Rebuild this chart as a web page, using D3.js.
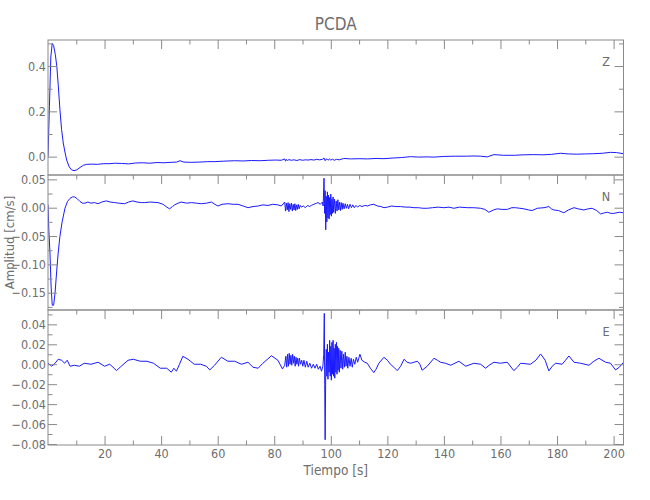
<!DOCTYPE html>
<html><head><meta charset="utf-8">
<script src="https://cdn.jsdelivr.net/npm/d3@7"></script>
<style>
body{margin:0;background:#fff}
svg{display:block}
text{font-family:"Liberation Sans Narrow","DejaVu Sans Condensed","Liberation Sans",sans-serif;fill:#6e6e6e}
</style>
</head><body><svg id="c" width="650" height="500"></svg>
<script>
const title = "PCDA";
const xLabel = "Tiempo [s]";
const yLabel = "Amplitud [cm/s]";
const xTickLabels = [20,40,60,80,100,120,140,160,180,200];
const xMinorTicks = [10,30,50,70,90,110,130,150,170,190];
const componentNames = ["Z","N","E"];

const zTime = [0,0.5,1,1.5,2,2.6,3.1,3.6,4.2,4.8,
5.4,6,6.6,7.5,8.3,9.2,10.2,11.3,12.5,13.7,
15.5,17.5,19.5,21.9,23.6,26,28.5,31,33.5,36,
38.5,41,43.5,45.5,46.7,48,50.5,53.7,56.5,59,
62,66,69,72,75,78,80.5,82.5,83.7,84,
84.3,84.7,85.2,86,87,88,89,90,91,92,
93,94,95,96,97,97.6,98,98.5,99,99.5,
100,100.6,101.2,102,103,104.6,107,110,113,116,
118.8,122,125,128.2,131,134,136.5,140,144,148,
150.6,153,155.3,157.7,161,165,168,171.8,175,178,
181.2,184,187,190,193,196,198.9,201,203.5];
const zAmp = [0,0.22,0.44,0.5,0.49,0.45,0.4,0.32,0.21,0.12,
0.06,0.02,-0.015,-0.045,-0.058,-0.062,-0.058,-0.048,-0.038,-0.034,
-0.033,-0.034,-0.031,-0.031,-0.029,-0.03,-0.032,-0.028,-0.027,-0.029,
-0.026,-0.027,-0.025,-0.024,-0.018,-0.024,-0.025,-0.024,-0.022,-0.022,
-0.02,-0.018,-0.019,-0.017,-0.018,-0.016,-0.015,-0.016,-0.01,-0.02,
-0.012,-0.017,-0.013,-0.016,-0.014,-0.017,-0.013,-0.016,-0.014,-0.015,
-0.013,-0.015,-0.012,-0.014,-0.012,-0.006,-0.018,-0.009,-0.016,-0.01,
-0.015,-0.011,-0.016,-0.012,-0.014,-0.008,-0.01,-0.009,-0.01,-0.008,
-0.009,-0.006,-0.004,0,-0.002,-0.001,-0.002,0.001,0.002,0.002,
0.003,0.002,-0.001,0.009,0.006,0.006,0.008,0.009,0.008,0.01,
0.015,0.012,0.011,0.012,0.013,0.015,0.019,0.018,0.013];

const nTime = [0,0.3,0.7,1.1,1.5,2,2.5,3.1,3.6,4.2,
5,6,6.9,7.8,8.6,9.4,10.3,11.3,12.2,13.1,
14.1,15.2,16.4,17.7,19,20.6,22,23.6,25,27.1,
28.5,30,31.5,33,34.2,36,38.9,40.7,42,43,
44,44.8,46,47.1,49,50.7,52.5,54.2,56,57.8,
59,60.1,61.5,63.6,65.5,67.2,69,70.7,72.5,74.3,
76,77.8,79.5,81.3,82.5,83.7,84,84.3,84.6,84.9,
85.2,85.5,85.8,86.1,86.4,86.7,87,87.3,87.6,87.9,
88.2,88.5,88.8,89.2,89.6,90.3,91,91.8,92.5,93.1,
94,95,95.5,96.3,97,97.3,97.6,97.8,98,98.2,
98.4,98.6,98.8,99,99.2,99.4,99.6,99.8,100,100.2,
100.4,100.6,100.8,101,101.3,101.6,101.9,102.2,102.5,102.8,
103.1,103.4,103.7,104,104.3,104.7,105.1,105.5,105.9,106.3,
106.8,107.3,107.8,108.3,108.9,109.5,110.2,111,112,113,
114,115.2,116.5,117.7,118.8,120,121.5,123,124.7,126.5,
128,129.4,131,132.5,134.1,136,138,140,141.8,143.5,
145.5,148.3,150.5,153,154.5,155.9,157.5,158.9,160.5,162.4,
164,165.3,166.8,168.3,170,171.2,173,175.4,177.1,178,
178.9,180.5,182.4,184,186,187.5,189.5,191,192.4,194,
195.4,196.8,197.8,199,200.1,202,203.5];
const nAmp = [0.005,-0.04,-0.08,-0.14,-0.172,-0.172,-0.15,-0.11,-0.08,-0.051,
-0.025,-0.001,0.011,0.0165,0.019,0.019,0.016,0.011,0.008,0.008,
0.01,0.008,0.009,0.007,0.01,0.012,0.01,0.009,0.008,0.007,
0.01,0.012,0.01,0.009,0.009,0.01,0.009,0.006,0.001,-0.002,
0.002,0.005,0.008,0.01,0.008,0.009,0.008,0.007,0.008,0.01,
0.006,0.003,0.006,0.007,0.006,0.006,0.003,0,0.002,0.003,
0.005,0.004,0.006,0.005,0.003,0.01,-0.006,0.008,-0.004,0.009,
-0.007,0.007,-0.003,0.008,-0.006,0.006,-0.004,0.007,-0.005,0.005,
-0.003,0.006,-0.002,0.004,0.001,0.003,0,0.004,0.002,0.004,
0.006,0.008,0.009,0.006,0.01,0.003,0.052,-0.01,0.03,-0.039,
0.02,-0.025,0.028,-0.018,0.022,-0.02,0.018,-0.012,0.024,-0.015,
0.015,-0.01,0.019,-0.008,0.015,-0.01,0.012,-0.006,0.014,-0.004,
0.01,-0.005,0.009,-0.003,0.008,-0.002,0.007,-0.001,0.006,-0.002,
0.006,0,0.005,0,0.004,0.001,0.004,0.002,0.004,0.003,
0.005,0.006,0.003,0.002,0,0.001,0.003,0.002,0.002,0.001,
0.001,0,0,-0.001,-0.001,0,0.001,0,0.001,-0.001,
0.001,0,0,-0.001,-0.003,-0.008,-0.004,-0.002,-0.003,-0.003,
0,0,-0.001,-0.002,-0.004,-0.005,-0.001,0,0.002,-0.002,
-0.004,-0.005,-0.009,-0.004,0,-0.002,-0.004,-0.002,-0.001,-0.005,
-0.011,-0.009,-0.008,-0.01,-0.01,-0.008,-0.009];

const eTime = [0,1.3,2.5,3.6,4.8,5.9,6.8,7.8,9.3,11.1,
12.8,15.2,17.7,20,21.8,23,24.2,25.9,28.3,30.2,
32.6,35,37.3,39.7,42,43.6,44.5,45.4,46.5,47.7,
49.5,51.7,54,56,57.2,58.9,61.3,63.6,66,68.4,
70.7,72.5,74.3,76,79,81.3,82.9,83.7,84.1,84.4,
84.7,85,85.3,85.6,85.9,86.2,86.5,86.8,87.1,87.4,
87.7,88,88.3,88.6,88.9,89.3,89.7,90.1,90.5,91,
91.5,92,92.6,93.2,93.8,94.4,95,95.6,96.2,96.7,
97.2,97.5,97.7,97.85,98,98.2,98.4,98.6,98.8,99,
99.2,99.4,99.6,99.8,100,100.2,100.4,100.6,100.8,101,
101.2,101.4,101.6,101.8,102,102.2,102.4,102.6,102.8,103,
103.3,103.6,103.9,104.2,104.5,104.8,105.1,105.4,105.7,106,
106.4,106.8,107.2,107.6,108,108.5,109,109.5,110.3,111,
112,112.9,114,115.2,116,117,118.8,120,121.1,122.3,
123.5,124.7,125.9,127,128.2,130.6,131.5,132.3,134.1,136.5,
137.7,138.8,140.5,142.4,145.3,147.7,150.6,153,154.7,156,
157.7,160,162.4,164.7,166,167.1,170.6,172.5,174.2,175.8,
177.1,178.3,179.5,181.8,183,184.2,186,188.3,191.3,193,
194.8,197.2,198.9,200.7,202,203.5];
const eAmp = [0.001,-0.002,0.001,0.005,0.004,0.001,0.004,-0.002,-0.001,-0.002,
0.001,0,0.002,-0.002,0,-0.003,-0.0064,-0.002,0.004,0.005,
0.003,0.003,0.001,-0.004,-0.004,-0.008,-0.004,-0.007,0,0.008,
0.005,0,0,-0.002,-0.0057,-0.001,0.007,0.003,0.003,0,
0.002,-0.003,-0.004,0.001,0.0085,0.004,-0.0047,-0.001,0.008,-0.003,
0.01,-0.002,0.011,0,0.009,-0.001,0.01,0.001,0.008,-0.002,
0.007,0,0.006,-0.002,0.006,0,0.004,-0.002,0.004,-0.003,
0.003,-0.003,0.001,-0.004,0,-0.004,0,-0.005,-0.002,-0.007,
-0.002,0.01,0.051,-0.02,-0.0757,-0.01,0.015,-0.012,0.02,-0.015,
0.012,-0.008,0.024,-0.012,0.018,-0.016,0.022,-0.01,0.024,-0.012,
0.016,-0.014,0.02,-0.008,0.022,-0.01,0.018,-0.006,0.016,-0.008,
0.014,-0.004,0.013,-0.005,0.01,-0.003,0.012,-0.002,0.008,-0.004,
0.007,-0.002,0.006,-0.003,0.005,0,0.007,0.002,0.01,0.004,
0.002,0.001,-0.004,-0.0084,-0.005,0.001,0.007,0.004,0,-0.003,
-0.0064,-0.002,0.005,0.002,0.001,0.003,0,-0.006,-0.002,0.006,
0.004,0.002,0.001,-0.001,0.003,-0.002,0.001,0,-0.004,-0.001,
0.002,0.001,0.002,-0.0064,-0.003,0.001,0,0.004,0.0103,0.004,
-0.0067,-0.002,0.001,0,0.004,0.0083,0.002,0.001,-0.001,0.003,
0.006,0.002,0.001,-0.0057,-0.003,0.002];

const zMajorTicks = [0,0.2,0.4];
const zMinorTicks = [0.1,0.3,0.5];
const nMajorTicks = [0.05,0,-0.05,-0.1,-0.15];
const nMinorTicks = [0.025,-0.025,-0.075,-0.125,-0.175];
const eMajorTicks = [0.04,0.02,0,-0.02,-0.04,-0.06,-0.08];
const eMinorTicks = [0.05,0.03,0.01,-0.01,-0.03,-0.05,-0.07];

const left = 48, right = 623.5;
const panelTops = [40, 175, 310];
const panelH = 135;
const axisColor = "#8a8a8a";
const fontStack = "'Liberation Sans Narrow','DejaVu Sans Condensed',sans-serif";

const panels = [
  {name: componentNames[0], t: zTime, a: zAmp, domain: [-0.081, 0.515], major: zMajorTicks, minor: zMinorTicks, fmt: d3.format(".1f")},
  {name: componentNames[1], t: nTime, a: nAmp, domain: [-0.1805, 0.0577], major: nMajorTicks, minor: nMinorTicks, fmt: d3.format(".2f")},
  {name: componentNames[2], t: eTime, a: eAmp, domain: [-0.081, 0.0544], major: eMajorTicks, minor: eMinorTicks, fmt: d3.format(".2f")}
];

const svg = d3.select("#c");
const x = d3.scaleLinear().domain([0, 203.5]).range([left, right]);

svg.append("text").attr("x", (left + right) / 2).attr("y", 30)
  .attr("text-anchor", "middle").style("font-size", "17px").text(title);

const defs = svg.append("defs");

panels.forEach((p, i) => {
  const top = panelTops[i], bottom = top + panelH;
  const y = d3.scaleLinear().domain(p.domain).range([bottom, top]);

  defs.append("clipPath").attr("id", "clip" + i).append("rect")
    .attr("x", left).attr("y", top).attr("width", right - left).attr("height", panelH);

  const data = d3.zip(p.t, p.a);
  const line = d3.line().x(d => x(d[0])).y(d => y(d[1]));
  svg.append("path").datum(data)
    .attr("clip-path", "url(#clip" + i + ")")
    .attr("fill", "none").attr("stroke", "#1a1aff").attr("stroke-width", 1)
    .attr("stroke-linejoin", "round")
    .attr("d", line);

  const styleAxis = g => {
    g.select(".domain").remove();
    g.selectAll("line").attr("stroke", axisColor);
    g.selectAll("text").style("font-size", "12.5px").attr("fill", "#6e6e6e")
      .style("font-family", fontStack);
  };
  const inRange = v => v >= p.domain[0] && v <= p.domain[1];

  svg.append("g").attr("transform", `translate(${left},0)`)
    .call(d3.axisLeft(y).tickValues(p.major).tickSizeInner(-9).tickSizeOuter(0).tickPadding(2).tickFormat(p.fmt))
    .call(styleAxis);
  svg.append("g").attr("transform", `translate(${left},0)`)
    .call(d3.axisLeft(y).tickValues(p.minor.filter(inRange)).tickSizeInner(-4.5).tickSizeOuter(0).tickFormat(""))
    .call(styleAxis);
  svg.append("g").attr("transform", `translate(${right},0)`)
    .call(d3.axisRight(y).tickValues(p.major).tickSizeInner(-9).tickSizeOuter(0).tickFormat(""))
    .call(styleAxis);
  svg.append("g").attr("transform", `translate(${right},0)`)
    .call(d3.axisRight(y).tickValues(p.minor.filter(inRange)).tickSizeInner(-4.5).tickSizeOuter(0).tickFormat(""))
    .call(styleAxis);
  svg.append("g").attr("transform", `translate(0,${top})`)
    .call(d3.axisTop(x).tickValues(xTickLabels).tickSizeInner(-9).tickSizeOuter(0).tickFormat(""))
    .call(styleAxis);
  svg.append("g").attr("transform", `translate(0,${top})`)
    .call(d3.axisTop(x).tickValues(xMinorTicks).tickSizeInner(-4.5).tickSizeOuter(0).tickFormat(""))
    .call(styleAxis);

  if (i === panels.length - 1) {
    svg.append("g").attr("transform", `translate(0,${bottom})`)
      .call(d3.axisBottom(x).tickValues(xTickLabels).tickSizeInner(-9).tickSizeOuter(0).tickPadding(4).tickFormat(d3.format("d")))
      .call(styleAxis);
    svg.append("g").attr("transform", `translate(0,${bottom})`)
      .call(d3.axisBottom(x).tickValues(xMinorTicks).tickSizeInner(-4.5).tickSizeOuter(0).tickFormat(""))
      .call(styleAxis);
  }

  svg.append("rect").attr("x", left).attr("y", top).attr("width", right - left).attr("height", panelH)
    .attr("fill", "none").attr("stroke", axisColor).attr("stroke-width", 1);

  svg.append("text").attr("x", 606).attr("y", top + 26).attr("text-anchor", "middle")
    .style("font-size", "12.5px").text(p.name);
});

svg.append("text").attr("x", (left + right) / 2).attr("y", 475)
  .attr("text-anchor", "middle").style("font-size", "13.5px").text(xLabel);

svg.append("text").attr("transform", `translate(14,${(panelTops[0] + panelTops[2] + panelH) / 2}) rotate(-90)`)
  .attr("text-anchor", "middle").style("font-size", "13px").text(yLabel);
</script>
</body></html>
